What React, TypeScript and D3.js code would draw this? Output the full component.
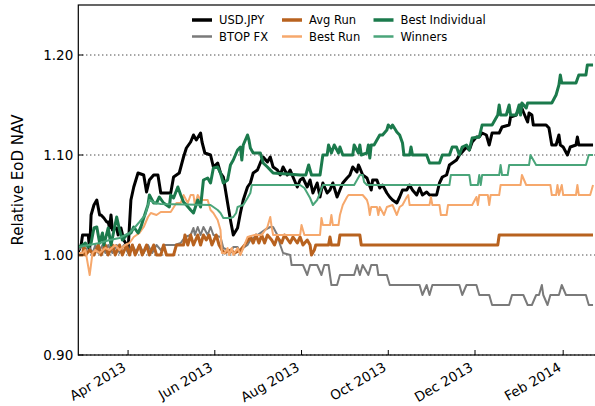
import { line, scaleLinear, scaleTime, timeDay, timeFormat, format } from "d3";

// days are counted from START; values are relative end-of-day NAV
const START = new Date(2013, 1, 25);
const END = new Date(2014, 1, 25);

type Pt = [number, number];

const usdJpy: Pt[] = [
  [0, 1.003], [2, 1.01], [3, 1.02], [7, 1.02], [8, 1.005], [9, 1.04], [11, 1.05], [13, 1.055],
  [15, 1.04], [16, 1.04], [18, 1.037], [20, 1.033], [21, 1.033], [22, 1.027], [23, 1.04], [24, 1.025],
  [27, 1.027], [28, 1.02], [30, 1.027], [32, 1.015], [34, 1.01], [35, 1.005], [37, 1.055], [39, 1.068],
  [42, 1.082], [46, 1.08], [48, 1.063], [50, 1.075], [53, 1.08], [56, 1.08], [58, 1.062], [65, 1.062],
  [67, 1.078], [71, 1.082], [74, 1.098], [76, 1.107], [79, 1.113], [81, 1.12], [83, 1.115], [86, 1.122],
  [87, 1.113], [89, 1.102], [93, 1.1], [95, 1.088], [98, 1.092], [100, 1.082], [102, 1.078], [105, 1.052],
  [107, 1.035], [109, 1.02], [112, 1.027], [114, 1.042], [116, 1.055], [119, 1.068], [121, 1.072],
  [123, 1.082], [126, 1.085], [128, 1.092], [130, 1.098], [133, 1.093], [135, 1.098], [137, 1.088],
  [140, 1.085], [142, 1.08], [144, 1.088], [147, 1.08], [149, 1.085], [151, 1.078], [154, 1.068],
  [156, 1.075], [158, 1.077], [161, 1.068], [163, 1.075], [165, 1.062], [168, 1.072], [170, 1.058],
  [172, 1.072], [175, 1.062], [177, 1.065], [179, 1.072], [182, 1.058], [184, 1.065], [186, 1.072],
  [189, 1.077], [191, 1.08], [193, 1.088], [196, 1.083], [197, 1.09], [198, 1.087], [200, 1.08],
  [203, 1.077], [206, 1.065], [207, 1.075], [210, 1.075], [212, 1.067], [214, 1.07], [217, 1.062],
  [219, 1.058], [221, 1.055], [224, 1.052], [226, 1.058], [228, 1.065], [231, 1.065], [233, 1.07],
  [235, 1.065], [238, 1.06], [240, 1.067], [242, 1.06], [245, 1.063], [247, 1.06], [252, 1.06],
  [254, 1.072], [256, 1.078], [259, 1.08], [261, 1.09], [266, 1.095], [268, 1.1], [270, 1.103],
  [273, 1.108], [275, 1.105], [277, 1.113], [280, 1.118], [282, 1.118], [284, 1.122], [287, 1.12],
  [289, 1.11], [291, 1.122], [296, 1.122], [298, 1.128], [303, 1.13], [304, 1.138], [308, 1.14],
  [311, 1.15], [313, 1.143], [316, 1.133], [317, 1.142], [319, 1.14], [320, 1.13], [329, 1.13],
  [331, 1.127], [333, 1.11], [336, 1.11], [338, 1.12], [339, 1.11], [341, 1.108], [344, 1.1],
  [346, 1.108], [350, 1.11], [351, 1.118], [352, 1.11], [362, 1.11],
];

const btopFx: Pt[] = [
  [0, 1.005], [3, 1.01], [5, 1.002], [7, 1.01], [10, 1.002], [12, 1.01], [14, 1.002], [17, 1.01],
  [19, 1.002], [21, 1.01], [24, 1.002], [27, 1.01], [29, 1.002], [32, 1.01], [35, 1.002], [38, 1.01],
  [41, 1.002], [43, 1.01], [46, 1.002], [49, 1.01], [52, 1.002], [55, 1.01], [58, 1.005], [61, 1.01],
  [68, 1.01], [72, 1.012], [75, 1.018], [79, 1.02], [81, 1.027], [82, 1.02], [84, 1.028], [86, 1.02],
  [88, 1.028], [91, 1.02], [93, 1.028], [95, 1.02], [100, 1.018], [102, 1.007], [105, 1.005],
  [107, 1.002], [109, 1.008], [112, 1.008], [114, 1.002], [116, 1.007], [119, 1.01], [121, 1.015],
  [124, 1.018], [128, 1.022], [131, 1.025], [135, 1.028], [137, 1.028], [140, 1.02], [142, 1.01],
  [144, 1.002], [149, 1.0], [150, 0.99], [158, 0.99], [161, 0.98], [163, 0.99], [168, 0.99],
  [171, 0.98], [173, 0.99], [176, 0.99], [178, 0.97], [182, 0.97], [184, 0.98], [194, 0.98],
  [196, 0.99], [198, 0.98], [200, 0.99], [204, 0.98], [206, 0.99], [210, 0.99], [211, 0.98],
  [217, 0.98], [219, 0.97], [240, 0.97], [242, 0.96], [245, 0.97], [247, 0.96], [249, 0.97],
  [268, 0.97], [270, 0.96], [273, 0.97], [280, 0.97], [282, 0.96], [289, 0.96], [291, 0.95],
  [303, 0.95], [305, 0.96], [313, 0.96], [316, 0.95], [319, 0.95], [322, 0.96], [324, 0.96],
  [326, 0.97], [327, 0.96], [330, 0.95], [332, 0.96], [338, 0.96], [340, 0.97], [343, 0.96],
  [357, 0.96], [359, 0.95], [362, 0.95],
];

const avgRun: Pt[] = [
  [0, 1.0], [3, 1.0], [4, 1.01], [5, 1.0], [8, 1.005], [11, 1.0], [14, 1.01], [16, 1.0], [19, 1.01],
  [21, 1.0], [24, 1.01], [26, 1.0], [29, 1.01], [31, 1.0], [34, 1.01], [36, 1.0], [38, 1.01], [40, 1.0],
  [43, 1.01], [45, 1.0], [48, 1.01], [50, 1.0], [53, 1.01], [55, 1.0], [58, 1.0], [60, 1.01], [62, 1.0],
  [67, 1.0], [69, 1.01], [74, 1.01], [75, 1.02], [77, 1.01], [79, 1.02], [81, 1.01], [84, 1.02],
  [86, 1.01], [88, 1.02], [90, 1.015], [92, 1.02], [94, 1.01], [97, 1.02], [99, 1.01], [101, 1.005],
  [103, 1.002], [107, 1.005], [110, 1.002], [114, 1.005], [117, 1.01], [121, 1.018], [123, 1.012],
  [125, 1.02], [127, 1.012], [129, 1.02], [131, 1.012], [133, 1.02], [136, 1.015], [138, 1.01],
  [140, 1.018], [143, 1.012], [145, 1.02], [149, 1.012], [151, 1.018], [154, 1.012], [156, 1.018],
  [158, 1.01], [161, 1.015], [163, 1.01], [164, 1.0], [166, 1.005], [167, 1.01], [176, 1.01],
  [177, 1.018], [178, 1.01], [183, 1.01], [184, 1.02], [198, 1.02], [199, 1.01], [295, 1.01],
  [296, 1.02], [362, 1.02],
];

const bestRun: Pt[] = [
  [0, 1.002], [3, 1.002], [5, 1.005], [8, 0.98], [10, 1.002], [12, 1.005], [15, 1.002], [19, 1.007],
  [22, 1.005], [26, 1.01], [29, 1.005], [33, 1.01], [36, 1.012], [39, 1.018], [43, 1.022], [46, 1.028],
  [49, 1.038], [51, 1.042], [55, 1.04], [58, 1.043], [65, 1.043], [69, 1.052], [72, 1.052], [74, 1.06],
  [77, 1.052], [79, 1.06], [81, 1.06], [82, 1.05], [84, 1.06], [86, 1.055], [91, 1.055], [93, 1.045],
  [95, 1.042], [98, 1.035], [100, 1.025], [101, 1.002], [103, 1.002], [105, 1.007], [106, 1.0],
  [108, 1.007], [109, 1.0], [112, 1.007], [114, 1.0], [116, 1.007], [119, 1.018], [124, 1.02],
  [129, 1.02], [133, 1.028], [135, 1.038], [136, 1.028], [137, 1.02], [156, 1.02], [157, 1.03],
  [159, 1.02], [170, 1.02], [171, 1.037], [172, 1.03], [177, 1.03], [178, 1.04], [179, 1.03],
  [183, 1.03], [184, 1.04], [186, 1.05], [189, 1.058], [190, 1.06], [200, 1.06], [203, 1.055],
  [204, 1.05], [205, 1.04], [206, 1.048], [210, 1.048], [211, 1.04], [212, 1.048], [215, 1.04],
  [217, 1.048], [221, 1.05], [224, 1.04], [226, 1.048], [228, 1.05], [231, 1.058], [232, 1.06],
  [233, 1.05], [247, 1.05], [248, 1.058], [249, 1.05], [254, 1.05], [255, 1.04], [259, 1.04],
  [260, 1.05], [277, 1.05], [280, 1.058], [281, 1.05], [282, 1.06], [288, 1.06], [289, 1.05],
  [290, 1.06], [296, 1.06], [297, 1.07], [311, 1.07], [312, 1.08], [315, 1.07], [332, 1.07],
  [333, 1.06], [336, 1.06], [337, 1.07], [338, 1.06], [340, 1.07], [341, 1.06], [350, 1.06],
  [351, 1.07], [352, 1.06], [360, 1.06], [362, 1.07],
];

const bestIndividual: Pt[] = [
  [0, 1.008], [3, 1.01], [5, 1.012], [7, 1.008], [9, 1.012], [11, 1.027], [13, 1.028], [15, 1.012],
  [17, 1.022], [18, 1.01], [21, 1.027], [23, 1.01], [27, 1.038], [29, 1.025], [31, 1.015], [34, 1.02],
  [37, 1.022], [39, 1.028], [42, 1.022], [44, 1.028], [46, 1.037], [49, 1.05], [50, 1.06], [53, 1.052],
  [55, 1.052], [57, 1.058], [60, 1.052], [64, 1.048], [65, 1.06], [67, 1.057], [70, 1.068], [72, 1.06],
  [74, 1.053], [76, 1.05], [79, 1.045], [81, 1.042], [84, 1.055], [86, 1.048], [88, 1.075], [91, 1.077],
  [93, 1.072], [95, 1.087], [98, 1.088], [100, 1.082], [102, 1.072], [105, 1.075], [107, 1.09],
  [109, 1.095], [112, 1.105], [114, 1.108], [115, 1.095], [116, 1.11], [119, 1.12], [120, 1.115],
  [121, 1.107], [123, 1.102], [128, 1.102], [130, 1.092], [133, 1.088], [135, 1.085], [137, 1.082],
  [156, 1.08], [160, 1.08], [162, 1.09], [164, 1.08], [170, 1.08], [172, 1.1], [175, 1.1], [176, 1.11],
  [178, 1.102], [180, 1.11], [183, 1.102], [184, 1.108], [186, 1.1], [193, 1.1], [194, 1.11],
  [197, 1.102], [198, 1.11], [199, 1.1], [203, 1.102], [204, 1.11], [205, 1.097], [206, 1.11],
  [208, 1.11], [212, 1.12], [214, 1.12], [217, 1.125], [218, 1.13], [220, 1.127], [221, 1.13],
  [224, 1.123], [226, 1.12], [228, 1.112], [229, 1.1], [233, 1.1], [234, 1.108], [235, 1.1],
  [245, 1.1], [247, 1.092], [254, 1.092], [256, 1.1], [261, 1.1], [263, 1.108], [266, 1.108],
  [268, 1.1], [270, 1.108], [273, 1.11], [275, 1.105], [277, 1.117], [282, 1.118], [284, 1.13],
  [291, 1.13], [295, 1.14], [296, 1.15], [297, 1.14], [301, 1.14], [303, 1.15], [304, 1.14],
  [308, 1.14], [310, 1.15], [311, 1.14], [312, 1.152], [315, 1.147], [316, 1.152], [333, 1.152],
  [336, 1.16], [338, 1.17], [339, 1.18], [340, 1.172], [350, 1.172], [352, 1.18], [357, 1.18],
  [358, 1.19], [362, 1.19],
];

const winners: Pt[] = [
  [0, 1.008], [15, 1.012], [22, 1.015], [29, 1.017], [33, 1.02], [36, 1.022], [40, 1.028], [43, 1.033],
  [47, 1.04], [49, 1.05], [50, 1.055], [54, 1.052], [58, 1.051], [93, 1.05], [95, 1.048], [98, 1.045],
  [100, 1.042], [102, 1.037], [107, 1.037], [109, 1.038], [111, 1.042], [112, 1.048], [116, 1.05],
  [119, 1.057], [121, 1.062], [122, 1.07], [156, 1.07], [159, 1.067], [163, 1.057], [165, 1.05],
  [168, 1.055], [170, 1.062], [172, 1.07], [194, 1.07], [196, 1.075], [198, 1.08], [200, 1.08],
  [201, 1.073], [203, 1.07], [261, 1.07], [262, 1.08], [275, 1.08], [276, 1.07], [281, 1.07],
  [282, 1.08], [283, 1.07], [284, 1.08], [296, 1.08], [297, 1.09], [298, 1.08], [302, 1.08],
  [303, 1.09], [317, 1.09], [318, 1.1], [322, 1.09], [357, 1.09], [359, 1.1], [362, 1.1],
];

const seriesNames = ["USD.JPY", "BTOP FX", "Avg Run", "Best Run", "Best Individual", "Winners"];
const seriesData = [usdJpy, btopFx, avgRun, bestRun, bestIndividual, winners];
const seriesColors = ["#000000", "#7a7a7a", "#b8621f", "#f6a86c", "#1b7a4c", "#4aa57a"];
const seriesWidths = [3, 2, 3, 2, 3, 2];

const yTicks = [0.9, 1.0, 1.1, 1.2];
const xTicks = [
  new Date(2013, 3, 1), new Date(2013, 5, 1), new Date(2013, 7, 1),
  new Date(2013, 9, 1), new Date(2013, 11, 1), new Date(2014, 1, 1),
];

const W = 595;
const H = 406;
const margin = { top: 5, right: -2.3, bottom: 51, left: 78.3 };
const font = "'DejaVu Sans', 'Bitstream Vera Sans', sans-serif";

export default function App() {
  const x = scaleTime().domain([START, END]).range([margin.left, W - margin.right]);
  const y = scaleLinear().domain([0.9, 1.25]).range([H - margin.bottom, margin.top]);
  const path = line<Pt>()
    .x((d) => x(timeDay.offset(START, d[0])))
    .y((d) => y(d[1]));
  const fmtDate = timeFormat("%b %Y");
  const fmtY = format(".2f");
  const x0 = margin.left;
  const x1 = W - margin.right;
  const y0 = H - margin.bottom;
  const y1 = margin.top;

  // legend: 3 columns x 2 rows
  const legendCols = [192, 282, 373.5];
  const legendRows = [20, 36.5];

  return (
    <svg
      width={W}
      height={H}
      style={{ position: "absolute", left: 0, top: 0, background: "#fff" }}
      fontFamily={font}
    >
      <rect width={W} height={H} fill="#fff" />
      <defs>
        <clipPath id="plot">
          <rect x={x0} y={y1} width={x1 - x0} height={y0 - y1} />
        </clipPath>
      </defs>
      {/* dotted grid */}
      {yTicks.map((t) => (
        <line
          key={t}
          x1={x0}
          x2={x1}
          y1={y(t)}
          y2={y(t)}
          stroke="#000"
          strokeWidth={1}
          strokeDasharray="1 3"
        />
      ))}
      <g clipPath="url(#plot)" fill="none" strokeLinejoin="round">
        {seriesData.map((d, i) => (
          <path
            key={seriesNames[i]}
            d={path(d) || ""}
            stroke={seriesColors[i]}
            strokeWidth={seriesWidths[i]}
          />
        ))}
      </g>
      {/* frame */}
      <rect x={x0} y={y1} width={x1 - x0} height={y0 - y1} fill="none" stroke="#000" strokeWidth={1.2} />
      {/* x ticks and labels */}
      {xTicks.map((t) => (
        <g key={t.getTime()}>
          <line x1={x(t)} x2={x(t)} y1={y0} y2={y0 - 5} stroke="#000" />
          <text
            transform={`translate(${x(t) - 1},${y0 + 15}) rotate(-30)`}
            textAnchor="end"
            fontSize={13.5}
          >
            {fmtDate(t)}
          </text>
        </g>
      ))}
      {/* y ticks and labels */}
      {yTicks.map((t) => (
        <g key={t}>
          <line x1={x0} x2={x0 + 5} y1={y(t)} y2={y(t)} stroke="#000" />
          <text x={x0 - 5} y={y(t)} textAnchor="end" dominantBaseline="central" fontSize={13.5}>
            {fmtY(t)}
          </text>
        </g>
      ))}
      <text
        transform={`translate(23,${(y0 + y1) / 2}) rotate(-90)`}
        textAnchor="middle"
        fontSize={15}
      >
        Relative EoD NAV
      </text>
      {/* legend */}
      {seriesNames.map((name, i) => {
        const cx = legendCols[Math.floor(i / 2)];
        const cy = legendRows[i % 2];
        return (
          <g key={name}>
            <line
              x1={cx}
              x2={cx + 20}
              y1={cy}
              y2={cy}
              stroke={seriesColors[i]}
              strokeWidth={seriesWidths[i] + 0.5}
            />
            <text x={cx + 27} y={cy} dominantBaseline="central" fontSize={11.5}>
              {name}
            </text>
          </g>
        );
      })}
    </svg>
  );
}
